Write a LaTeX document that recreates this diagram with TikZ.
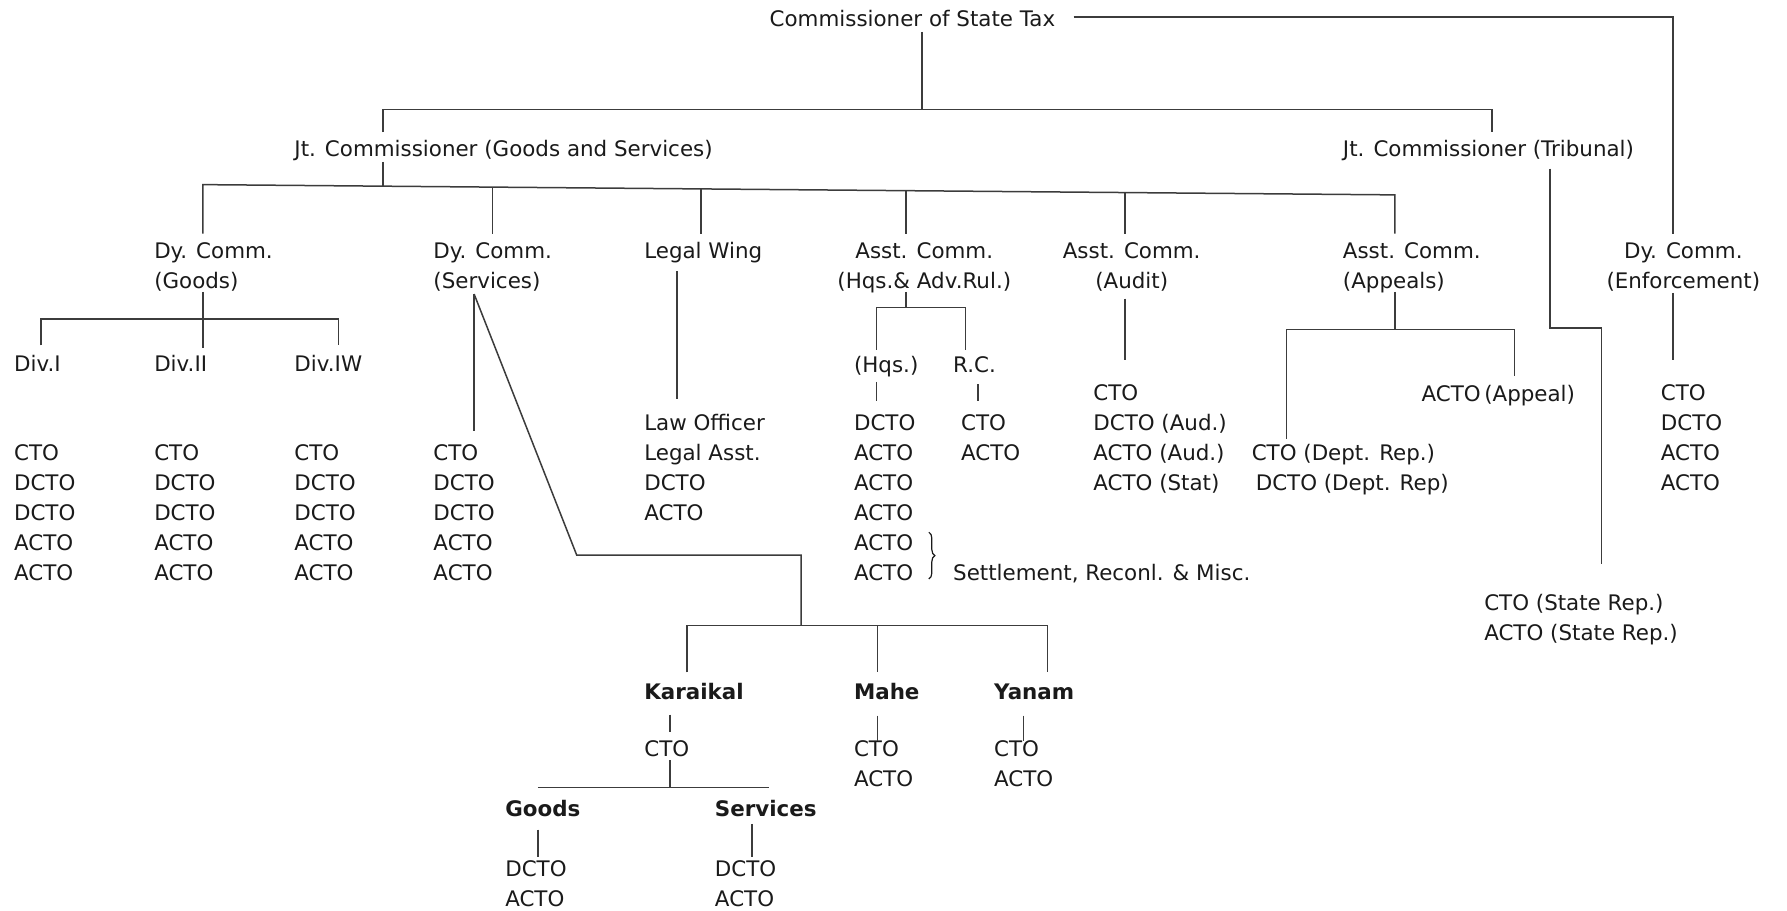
\documentclass[tikz,border=0pt]{standalone}
\usepackage{fontspec}
\setmainfont{DejaVu Sans}
\usetikzlibrary{decorations.pathreplacing}
\definecolor{txtc}{HTML}{1A1A1A}
\definecolor{linec}{HTML}{3C3C3C}
\begin{document}
\begin{tikzpicture}[x=0.56985pt,y=-0.56985pt,
  lbl/.style={anchor=base west,inner sep=0pt,align=left,text=txtc,font=\fontsize{10.7}{15}\selectfont},
  clbl/.style={lbl,anchor=base,align=center},
  blbl/.style={lbl,font=\fontsize{10.7}{15}\selectfont\bfseries},
  con/.style={draw=linec,line width=0.75pt}]
\fill[white] (0,0) rectangle (1568,799);
\useasboundingbox (0,0) rectangle (1568,799);
% line pitch 26.32; multi-line nodes are placed by the baseline of their last line
% ---------- text nodes ----------
\node[lbl] (commr) at (675,23) {Commissioner of State Tax};
\node[lbl] (jtgs) at (258,137) {Jt. Commissioner (Goods and Services)};
\node[lbl] (jttr) at (1178,137) {Jt. Commissioner (Tribunal)};
\node[lbl] (dcg) at (135,253.3) {Dy. Comm.\\(Goods)};
\node[lbl] (dcs) at (380,253.3) {Dy. Comm.\\(Services)};
\node[lbl] (legal) at (565,227) {Legal Wing};
\node[clbl] (ach) at (811,253.3) {Asst. Comm.\\(Hqs.\& Adv.Rul.)};
\node[clbl] (aca) at (993,253.3) {Asst. Comm.\\(Audit)};
\node[lbl] (acp) at (1178,253.3) {Asst. Comm.\\(Appeals)};
\node[clbl] (dce) at (1477,253.3) {Dy. Comm.\\(Enforcement)};
\node[lbl] (div1) at (12,326) {Div.I};
\node[lbl] (div2) at (135,326) {Div.II};
\node[lbl] (div3) at (258,326) {Div.IW};
\node[lbl] (colA) at (12,509.3) {CTO\\DCTO\\DCTO\\ACTO\\ACTO};
\node[lbl] (colB) at (135,509.3) {CTO\\DCTO\\DCTO\\ACTO\\ACTO};
\node[lbl] (colC) at (258,509.3) {CTO\\DCTO\\DCTO\\ACTO\\ACTO};
\node[lbl] (colD) at (380,509.3) {CTO\\DCTO\\DCTO\\ACTO\\ACTO};
\node[lbl] (legalst) at (565,457) {Law Officer\\Legal Asst.\\DCTO\\ACTO};
\node[lbl] (hqs) at (749,327) {(Hqs.)};
\node[lbl] (rc) at (836,327) {R.C.};
\node[lbl] (hqsst) at (749,509.6) {DCTO\\ACTO\\ACTO\\ACTO\\ACTO\\ACTO};
\node[lbl] (rcst) at (843,404.3) {CTO\\ACTO};
\node[lbl] (settle) at (836,509) {Settlement, Reconl. \& Misc.};
\node[lbl] (audst) at (959,430) {CTO\\DCTO (Aud.)\\ACTO (Aud.)\\ACTO (Stat)};
\node[lbl] (actoapp) at (1247,352) {ACTO\,(Appeal)};
\node[lbl] (deptrep) at (1098,430.3) {CTO (Dept. Rep.)\\\hspace*{2pt}DCTO (Dept. Rep)};
\node[lbl] (staterep) at (1302,562.3) {CTO (State Rep.)\\ACTO (State Rep.)};
\node[lbl] (enfst) at (1457,430) {CTO\\DCTO\\ACTO\\ACTO};
\node[blbl] (karaikal) at (565,614) {Karaikal};
\node[blbl] (mahe) at (749,614) {Mahe};
\node[blbl] (yanam) at (872,614) {Yanam};
\node[lbl] (kcto) at (565,664) {CTO};
\node[blbl] (goods) at (443,716) {Goods};
\node[blbl] (services) at (627,716) {Services};
\node[lbl] (gst) at (443,795.3) {DCTO\\ACTO};
\node[lbl] (sst) at (627,795.3) {DCTO\\ACTO};
\node[lbl] (mst) at (749,690.3) {CTO\\ACTO};
\node[lbl] (yst) at (872,690.3) {CTO\\ACTO};
% ---------- junction coordinates ----------
\coordinate (c1) at (809,28);   \coordinate (c2) at (809,96);
\coordinate (c3) at (336,96);   \coordinate (c4) at (1309,96);
\coordinate (c5) at (336,116);  \coordinate (c6) at (1309,116);
\coordinate (e1) at (942,15);   \coordinate (e2) at (1468,15);  \coordinate (e3) at (1468,205);
\coordinate (g1) at (336,142);  \coordinate (g2) at (336,163.4);
\coordinate (bL) at (178,162);  \coordinate (bR) at (1224,171);
\coordinate (d1) at (178,205);
\coordinate (d2a) at (432,164.2);  \coordinate (d2) at (432,205);
\coordinate (d3a) at (615,165.8);  \coordinate (d3) at (615,205);
\coordinate (d4a) at (795,167.3);  \coordinate (d4) at (795,205);
\coordinate (d5a) at (987,169.0);  \coordinate (d5) at (987,205);
\coordinate (d6) at (1224,205);
\coordinate (t1) at (1360,148); \coordinate (t2) at (1360,288);
\coordinate (t3) at (1405,288); \coordinate (t4) at (1405,495);
\coordinate (k1) at (178,256);  \coordinate (k2) at (178,305);
\coordinate (k3) at (36,280);   \coordinate (k4) at (297,280);
\coordinate (k5) at (36,303);   \coordinate (k6) at (297,303);
\coordinate (s1) at (416,258);  \coordinate (s2) at (416,378);
\coordinate (s3) at (506,487);  \coordinate (s4) at (703,487);  \coordinate (s5) at (703,549);
\coordinate (s6) at (603,549);  \coordinate (s7) at (919,549);  \coordinate (s8) at (770,549);
\coordinate (s9) at (603,590);  \coordinate (s10) at (770,590); \coordinate (s11) at (919,590);
\coordinate (r1) at (588,627);  \coordinate (r2) at (588,642);
\coordinate (r3) at (588,667);  \coordinate (r4) at (588,691);
\coordinate (r5) at (472,691);  \coordinate (r6) at (675,691);
\coordinate (r7) at (472,728);  \coordinate (r8) at (472,752);
\coordinate (r9) at (660,723);  \coordinate (r10) at (660,752);
\coordinate (m1) at (770,628);  \coordinate (m2) at (770,650);
\coordinate (y1) at (898,628);  \coordinate (y2) at (898,650);
\coordinate (l1) at (594,238);  \coordinate (l2) at (594,350);
\coordinate (h1) at (795,256);  \coordinate (h2) at (795,270);
\coordinate (h3) at (769,270);  \coordinate (h4) at (847,270);
\coordinate (h5) at (769,307);  \coordinate (h6) at (847,307);
\coordinate (h7) at (769,335);  \coordinate (h8) at (769,352);
\coordinate (h9) at (858,337);  \coordinate (h10) at (858,352);
\coordinate (br1) at (815,467); \coordinate (br2) at (815,508);
\coordinate (a1) at (987,262);  \coordinate (a2) at (987,316);
\coordinate (p1) at (1224,256); \coordinate (p2) at (1224,289);
\coordinate (p3) at (1129,289); \coordinate (p4) at (1329,289);
\coordinate (p5) at (1129,385); \coordinate (p6) at (1329,330);
\coordinate (n1) at (1468,257); \coordinate (n2) at (1468,316);
% ---------- connectors ----------
\draw[con] (c1) -- (c2);
\draw[con] (c5) -- (c3) -- (c4) -- (c6);
\draw[con] (e1) -- (e2) -- (e3);
\draw[con] (g1) -- (g2);
\draw[con] (d1) -- (bL) -- (bR) -- (d6);
\draw[con] (d2a) -- (d2);
\draw[con] (d3a) -- (d3);
\draw[con] (d4a) -- (d4);
\draw[con] (d5a) -- (d5);
\draw[con] (t1) -- (t2) -- (t3) -- (t4);
\draw[con] (k1) -- (k2);
\draw[con] (k5) -- (k3) -- (k4) -- (k6);
\draw[con] (s1) -- (s2);
\draw[con] (s1) -- (s3) -- (s4) -- (s5);
\draw[con] (s9) -- (s6) -- (s7) -- (s11);
\draw[con] (s8) -- (s10);
\draw[con] (r1) -- (r2);
\draw[con] (r3) -- (r4);
\draw[con] (r5) -- (r6);
\draw[con] (r7) -- (r8);
\draw[con] (r9) -- (r10);
\draw[con] (m1) -- (m2);
\draw[con] (y1) -- (y2);
\draw[con] (l1) -- (l2);
\draw[con] (h1) -- (h2);
\draw[con] (h5) -- (h3) -- (h4) -- (h6);
\draw[con] (h7) -- (h8);
\draw[con] (h9) -- (h10);
\draw[con] (a1) -- (a2);
\draw[con] (p1) -- (p2);
\draw[con] (p5) -- (p3) -- (p4) -- (p6);
\draw[con] (n1) -- (n2);
\draw[draw=txtc,line width=0.6pt,decorate,decoration={brace,amplitude=3pt}] (br1) -- (br2);
\end{tikzpicture}
\end{document}
